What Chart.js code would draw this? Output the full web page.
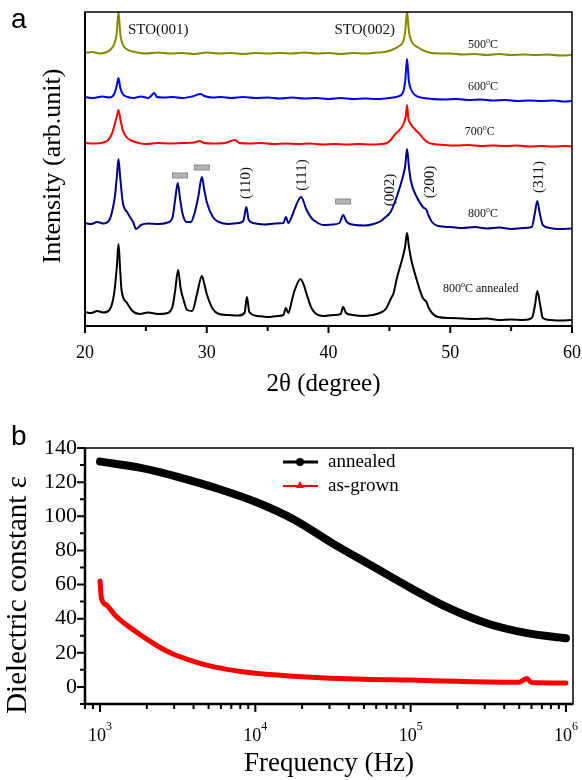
<!DOCTYPE html>
<html>
<head>
<meta charset="utf-8">
<script src="https://cdn.jsdelivr.net/npm/chart.js@4.4.0/dist/chart.umd.min.js"></script>
<style>
  body { margin: 0; background: #fff; }
  #wrap { position: relative; width: 582px; height: 780px; }
  canvas { position: absolute; left: 0; }
  #xrd { top: 0; }
  #diel { top: 400px; }
</style>
</head>
<body>
<div id="wrap">
  <canvas id="xrd" width="582" height="400"></canvas>
  <canvas id="diel" width="582" height="380"></canvas>
</div>
<script>
// ---- panel a: XRD traces, [2theta, intensity (arb., offset stacked)] ----
const trace500 = [[20,273],[20.6,274],[21.2,272.5],[21.8,274],[22.1,276.5],[22.4,282],[22.6,292],[22.75,314],[22.9,292],[23.05,283],[23.4,277],[23.9,274.5],[24.5,273],[25,272.5],[26,273.5],[27,272.5],[28,273],[29,272],[30,273.5],[31,272.5],[32,273],[33,272],[34,273],[35,272.5],[36,273],[37,272.5],[38,273.5],[39,272.5],[40,273],[41,272],[42,273],[43,272.5],[44,273.5],[44.6,274],[45.2,276],[45.8,280],[46.15,285],[46.3,295],[46.45,314],[46.6,295],[46.8,285],[47.3,279],[48.1,274],[49,272.5],[50,272.5],[51,271.5],[52,272],[53,271],[54,272],[55,271],[56,271.5],[57,271],[58,271.5],[59,270.5],[60,271]];
const trace600 = [[20,229],[20.7,228],[21.4,229.5],[22.0,228.5],[22.4,232],[22.6,240],[22.75,248],[22.9,238],[23.1,232],[23.5,229],[24,228],[24.6,229.5],[25.2,228],[25.7,233],[25.9,229],[26.5,228.5],[27.2,229],[28,228],[28.8,229.5],[29.5,232],[29.8,230],[30.5,228.5],[31.2,229],[32,228],[33,229],[34,228],[35,228.5],[36,227.5],[37,228.5],[38,227.5],[39,228],[40,227],[41,228],[42,227],[43,227.5],[44,227],[45,228],[45.7,229.5],[46.1,233],[46.3,245],[46.45,267],[46.6,245],[46.8,236],[47.1,231],[47.6,228.5],[48.5,227],[49.5,226.5],[50.5,227],[51.5,226],[52.5,226.5],[53.5,225.5],[54.5,226],[55.5,225],[56.5,225.5],[57.5,225],[58.5,225.5],[59.3,224.5],[60,225]];
const trace700 = [[20,183],[20.8,182.5],[21.5,183.5],[21.9,186],[22.2,192],[22.45,202],[22.62,210],[22.75,216],[22.9,207],[23.1,196],[23.4,189],[23.8,185.5],[24.4,183],[25,182],[26,183],[27,182.5],[28,183],[29,183.5],[29.4,185],[29.8,183],[30.5,182.5],[31.5,183],[32.3,186],[32.7,183],[33.5,182.5],[34.5,183],[35.5,182],[36.5,182.5],[37.5,182],[38.5,182.5],[39.5,181.5],[40.5,182],[41.5,181.5],[42.5,182],[43.5,181.5],[44.3,182],[44.8,183],[45.5,192],[46.2,203],[46.35,210],[46.45,221],[46.55,208],[46.7,203],[47.4,193],[48.1,184],[48.6,182],[49.5,181],[50.5,180.5],[51.5,181],[52.5,180],[53.5,180.5],[54.5,180],[55.5,180.5],[56.5,179.5],[57.5,180],[58.5,179.5],[59.3,180],[60,179.5]];
const trace800 = [[20,103],[20.5,102],[21,104],[21.5,102.5],[22,106],[22.2,113],[22.45,129],[22.62,150],[22.75,167],[22.88,150],[23.1,124],[23.5,113],[23.95,104],[24.2,97],[24.6,101],[25.2,102.5],[26,102],[26.8,103.5],[27.2,109],[27.4,126],[27.62,143],[27.8,128],[28.0,113],[28.35,104],[28.7,104],[29.0,113],[29.3,129],[29.6,149],[29.8,136],[30.0,124],[30.5,109],[31.0,104],[31.8,102],[32.6,103],[33.0,105],[33.25,119],[33.45,106],[34,102.5],[34.8,101.5],[35.6,102.5],[36.3,103],[36.5,109],[36.7,103],[37.0,110],[37.25,118],[37.75,129],[38.2,116],[38.6,108],[39.0,104],[39.6,101],[40.3,101.5],[40.9,103],[41.2,111],[41.5,104],[42.2,101],[43.0,100.5],[43.7,102],[44.3,105],[44.7,109],[45.1,114],[45.6,129],[46.1,149],[46.3,160],[46.45,177],[46.6,160],[46.75,146],[47.25,129],[47.75,119],[48.05,116],[48.2,111],[48.5,104],[49,100],[50,99],[51,98],[52,99],[53,97.5],[54,98.5],[55,97],[56,98],[56.7,99],[56.95,113],[57.15,125],[57.35,113],[57.6,101],[58.2,98],[59,97],[60,97.5]];
const traceAnn = [[20,14],[20.5,13],[21,15],[21.5,13.5],[22,16],[22.3,26],[22.46,39],[22.62,60],[22.75,82],[22.88,58],[23.0,36],[23.45,23],[23.9,15],[24.5,12],[25.2,13.5],[26,12],[26.8,13],[27.2,20],[27.4,35],[27.65,56],[27.85,38],[28.05,28],[28.4,16],[28.8,15],[29.2,32],[29.6,50],[29.8,42],[30.0,32],[30.5,17],[31.0,12],[31.8,11],[32.6,10.5],[33.1,13],[33.3,29],[33.5,14],[34.2,10],[35,9],[35.8,10],[36.3,11],[36.5,18],[36.7,13],[37.0,26],[37.2,35],[37.7,47],[38.0,40],[38.2,32],[38.6,18],[39,12],[39.6,10],[40.4,11],[41.0,12],[41.2,19],[41.45,13],[42,11],[42.8,10],[43.6,11],[44.2,13],[44.7,17],[45.15,28],[45.35,33],[45.6,47],[46.1,69],[46.3,80],[46.45,93],[46.6,80],[46.75,69],[47.25,46],[47.75,28],[48.05,24],[48.2,19],[48.5,13],[49,9],[50,8],[51,7.5],[52,7],[53,7.5],[54,6],[55,6.5],[56,6],[56.7,8],[56.95,20],[57.15,35],[57.4,20],[57.6,8],[58.2,6],[59,5.5],[60,6]];

const xTicksA = [20, 30, 40, 50, 60];
const xMinorA = [25, 35, 45, 55];

// peak annotations [text, 2theta, height]
const peakLabels = [['(110)', 33.22, 143], ['(111)', 37.82, 151], ['(002)', 45.05, 136], ['(200)', 48.34, 144], ['(311)', 57.29, 149]];
const impurityMarks = [[27.8, 150.5], [29.6, 158.5], [41.2, 124.5]];
const tempLabels = [['500', 'C', 51.45, 283], ['600', 'C', 51.45, 241], ['700', 'C', 51.2, 196], ['800', 'C', 51.45, 114], ['800', 'C annealed', 49.4, 39]];

// ---- panel b: dielectric constant vs frequency ----
const freqAnn = [1000, 1800, 3200, 5600, 10000, 17800, 31600, 56200, 100000, 178000, 316000, 562000, 1000000];
const epsAnn = [132, 128.5, 123, 116.5, 108.5, 98, 84, 71, 58, 46, 37, 31.5, 28.5];
const freqGrown = [1000, 1020, 1100, 1250, 1500, 2000, 2500, 3000, 4000, 5000, 6000, 8000, 10000, 20000, 50000, 100000, 200000, 500000, 560000, 600000, 1000000];
const epsGrown = [62, 52, 48, 42, 36, 28, 22.5, 19, 15, 12.5, 11, 9, 8, 6, 4.5, 4, 3.3, 2.8, 5, 2.6, 2.3];

const yTicksB = [0, 20, 40, 60, 80, 100, 120, 140];
const yMinorB = [-10, 10, 30, 50, 70, 90, 110, 130];
const xTicksB = [1e3, 1e4, 1e5, 1e6];
const xMinorB = [800, 900, 2e3, 3e3, 4e3, 5e3, 6e3, 7e3, 8e3, 9e3, 2e4, 3e4, 4e4, 5e4, 6e4, 7e4, 8e4, 9e4, 2e5, 3e5, 4e5, 5e5, 6e5, 7e5, 8e5, 9e5];

const SERIF = '"Liberation Serif", "Times New Roman", serif';
const SANS = '"Liberation Sans", Arial, sans-serif';

function pts(pairs) { return pairs.map(p => ({ x: p[0], y: p[1] })); }

// draws base + raised small "o" + rest, left aligned
function drawDegree(ctx, x, y, num, rest, size) {
    ctx.textAlign = 'left';
    ctx.textBaseline = 'alphabetic';
    ctx.font = size + 'px ' + SERIF;
    ctx.fillText(num, x, y);
    let w = ctx.measureText(num).width;
    ctx.font = Math.round(size * 0.7) + 'px ' + SERIF;
    ctx.fillText('o', x + w, y - size * 0.45);
    w += ctx.measureText('o').width;
    ctx.font = size + 'px ' + SERIF;
    ctx.fillText(rest, x + w, y);
}

const xrdDecor = {
    id: 'xrdDecor',
    afterDraw(chart) {
        const { ctx, chartArea: a, scales: { x, y } } = chart;
        ctx.save();
        ctx.strokeStyle = '#000';
        ctx.fillStyle = '#000';
        ctx.lineWidth = 1.5;
        ctx.strokeRect(a.left, a.top, a.right - a.left, a.bottom - a.top);
        ctx.lineWidth = 2;
        ctx.beginPath();
        ctx.moveTo(a.left, a.top); ctx.lineTo(a.left, a.bottom); ctx.lineTo(a.right, a.bottom);
        xTicksA.forEach(v => { const px = x.getPixelForValue(v); ctx.moveTo(px, a.bottom); ctx.lineTo(px, a.bottom + 7); });
        xMinorA.forEach(v => { const px = x.getPixelForValue(v); ctx.moveTo(px, a.bottom); ctx.lineTo(px, a.bottom + 5); });
        ctx.stroke();

        ctx.font = '18px ' + SERIF;
        ctx.textAlign = 'center';
        ctx.textBaseline = 'middle';
        xTicksA.forEach(v => ctx.fillText(String(v), x.getPixelForValue(v), a.bottom + 27));
        ctx.font = '25px ' + SERIF;
        ctx.fillText('2\u03B8 (degree)', (a.left + a.right) / 2 - 5, a.bottom + 58);
        ctx.save();
        ctx.translate(a.left - 32, (a.top + a.bottom) / 2 - 3);
        ctx.rotate(-Math.PI / 2);
        ctx.font = '26px ' + SERIF;
        ctx.fillText('Intensity (arb.unit)', 0, 0);
        ctx.restore();

        ctx.font = '28px ' + SANS;
        ctx.textAlign = 'left';
        ctx.textBaseline = 'alphabetic';
        ctx.fillText('a', 11, 28);

        // STO labels
        ctx.fillStyle = '#111';
        ctx.font = '15px ' + SERIF;
        ctx.textBaseline = 'middle';
        ctx.textAlign = 'left';
        ctx.fillText('STO(001)', x.getPixelForValue(23.53), y.getPixelForValue(296));
        ctx.textAlign = 'right';
        ctx.fillText('STO(002)', x.getPixelForValue(45.46), y.getPixelForValue(296));

        // temperature labels
        tempLabels.forEach(t => drawDegree(ctx, x.getPixelForValue(t[2]), y.getPixelForValue(t[3]) + 5, t[0], t[1], 12));

        // peak indices (rotated)
        ctx.font = '15px ' + SERIF;
        ctx.textAlign = 'center';
        ctx.textBaseline = 'middle';
        peakLabels.forEach(p => {
            ctx.save();
            ctx.translate(x.getPixelForValue(p[1]), y.getPixelForValue(p[2]));
            ctx.rotate(-Math.PI / 2);
            ctx.fillText(p[0], 0, 0);
            ctx.restore();
        });

        // impurity bars
        ctx.fillStyle = '#b4b4b4';
        ctx.strokeStyle = '#8a8a8a';
        ctx.lineWidth = 1;
        impurityMarks.forEach(m => {
            const px = x.getPixelForValue(m[0]), py = y.getPixelForValue(m[1]);
            ctx.fillRect(px - 7.5, py - 2.5, 15, 5);
            ctx.strokeRect(px - 7.5, py - 2.5, 15, 5);
        });
        ctx.restore();
    }
};

const dielDecor = {
    id: 'dielDecor',
    afterDraw(chart) {
        const { ctx, chartArea: a, scales: { x, y } } = chart;
        ctx.save();
        ctx.strokeStyle = '#000';
        ctx.fillStyle = '#000';
        ctx.lineWidth = 1.5;
        ctx.strokeRect(a.left, a.top, a.right - a.left, a.bottom - a.top);
        ctx.lineWidth = 2.5;
        ctx.beginPath();
        ctx.moveTo(a.left, a.top); ctx.lineTo(a.left, a.bottom); ctx.lineTo(a.right, a.bottom);
        ctx.stroke();
        ctx.lineWidth = 2;
        ctx.beginPath();
        yTicksB.forEach(v => { const py = y.getPixelForValue(v); ctx.moveTo(a.left, py); ctx.lineTo(a.left - 8, py); });
        yMinorB.forEach(v => { const py = y.getPixelForValue(v); ctx.moveTo(a.left, py); ctx.lineTo(a.left - 5, py); });
        xTicksB.forEach(v => { const px = x.getPixelForValue(v); ctx.moveTo(px, a.bottom); ctx.lineTo(px, a.bottom + 8); });
        xMinorB.forEach(v => { const px = x.getPixelForValue(v); ctx.moveTo(px, a.bottom); ctx.lineTo(px, a.bottom + 5); });
        ctx.stroke();

        ctx.font = '22px ' + SERIF;
        ctx.textAlign = 'right';
        ctx.textBaseline = 'middle';
        yTicksB.forEach(v => ctx.fillText(String(v), a.left - 8, y.getPixelForValue(v)));

        xTicksB.forEach(v => {
            const exp = String(Math.round(Math.log10(v)));
            ctx.font = '18px ' + SERIF;
            const w1 = ctx.measureText('10').width;
            ctx.font = '12px ' + SERIF;
            const w2 = ctx.measureText(exp).width;
            const left = x.getPixelForValue(v) - (w1 + w2) / 2;
            ctx.textAlign = 'left';
            ctx.textBaseline = 'middle';
            ctx.font = '18px ' + SERIF;
            ctx.fillText('10', left, a.bottom + 32);
            ctx.font = '12px ' + SERIF;
            ctx.fillText(exp, left + w1, a.bottom + 23);
        });

        ctx.textAlign = 'center';
        ctx.font = '27px ' + SERIF;
        ctx.fillText('Frequency (Hz)', (a.left + a.right) / 2, a.bottom + 60);
        ctx.save();
        ctx.translate(18, (a.top + a.bottom) / 2 + 19);
        ctx.rotate(-Math.PI / 2);
        ctx.font = '29px ' + SERIF;
        ctx.fillText('Dielectric constant \u03B5', 0, 0);
        ctx.restore();

        ctx.font = '28px ' + SANS;
        ctx.textAlign = 'left';
        ctx.textBaseline = 'alphabetic';
        ctx.fillText('b', 11, 45);

        // legend
        const lx = a.left + 198, ly = a.top + 14;
        ctx.lineWidth = 3;
        ctx.beginPath(); ctx.moveTo(lx, ly); ctx.lineTo(lx + 35, ly); ctx.stroke();
        ctx.beginPath(); ctx.arc(lx + 17, ly, 4, 0, Math.PI * 2); ctx.fill();
        ctx.strokeStyle = '#ff0000'; ctx.fillStyle = '#ff0000'; ctx.lineWidth = 2;
        ctx.beginPath(); ctx.moveTo(lx, ly + 24); ctx.lineTo(lx + 35, ly + 24); ctx.stroke();
        ctx.beginPath(); ctx.moveTo(lx + 17, ly + 19); ctx.lineTo(lx + 21, ly + 26); ctx.lineTo(lx + 13, ly + 26); ctx.closePath(); ctx.fill();
        ctx.fillStyle = '#000';
        ctx.font = '19px ' + SERIF;
        ctx.textBaseline = 'middle';
        ctx.fillText('annealed', lx + 45, ly);
        ctx.fillText('as-grown', lx + 45, ly + 24);
        ctx.restore();
    }
};

function xrdSet(data, color) {
    return { data: pts(data), borderColor: color, borderWidth: 2, pointRadius: 0, cubicInterpolationMode: 'monotone', fill: false };
}

new Chart(document.getElementById('xrd'), {
    type: 'line',
    data: {
        datasets: [
            xrdSet(trace500, '#888800'),
            xrdSet(trace600, '#0000ff'),
            xrdSet(trace700, '#ff0000'),
            xrdSet(trace800, '#00008b'),
            xrdSet(traceAnn, '#000000')
        ]
    },
    options: {
        responsive: false,
        animation: false,
        layout: { padding: { left: 85, top: 12, right: 10, bottom: 74 } },
        scales: {
            x: { type: 'linear', min: 20, max: 60, display: false },
            y: { type: 'linear', min: 0, max: 314, display: false }
        },
        plugins: { legend: { display: false }, tooltip: { enabled: false } }
    },
    plugins: [xrdDecor]
});

new Chart(document.getElementById('diel'), {
    type: 'line',
    data: {
        datasets: [
            { label: 'annealed', data: freqAnn.map((f, i) => ({ x: f, y: epsAnn[i] })), borderColor: '#000', borderWidth: 8, borderCapStyle: 'round', pointRadius: 0, cubicInterpolationMode: 'monotone' },
            { label: 'as-grown', data: freqGrown.map((f, i) => ({ x: f, y: epsGrown[i] })), borderColor: '#ff0000', borderWidth: 5, borderCapStyle: 'round', pointRadius: 0, cubicInterpolationMode: 'monotone' }
        ]
    },
    options: {
        responsive: false,
        animation: false,
        layout: { padding: { left: 85, top: 48, right: 9, bottom: 76 } },
        scales: {
            x: { type: 'logarithmic', min: 800, max: 1110000, display: false },
            y: { type: 'linear', min: -10, max: 140, display: false }
        },
        plugins: { legend: { display: false }, tooltip: { enabled: false } }
    },
    plugins: [dielDecor]
});
</script>
</body>
</html>
